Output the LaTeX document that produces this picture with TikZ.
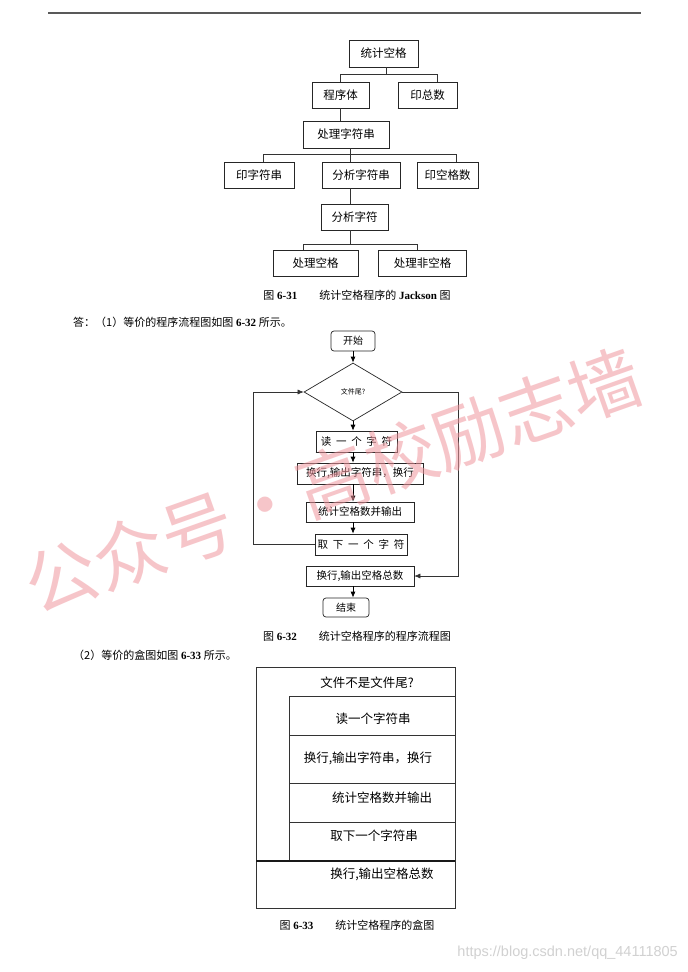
\documentclass[tikz,border=0pt]{standalone}
\usepackage{fontspec}
\setmainfont{Liberation Serif}
\newfontfamily\cjk{Noto Sans CJK SC}
\newfontfamily\urlfont{Liberation Sans}
\usetikzlibrary{shapes.geometric,arrows.meta}
\definecolor{wmpink}{RGB}{240,150,158}
\begin{document}
\begin{tikzpicture}[x=1pt,y=-1pt,
  shade3d/.style={append after command={
      (\tikzlastnode.south west) edge[draw=black!85,line width=1.3pt] (\tikzlastnode.south east)
      (\tikzlastnode.south east) edge[draw=black!85,line width=1.1pt] (\tikzlastnode.north east)}},
  jbox/.style={draw=black!85, line width=0.6pt, inner sep=0pt, font=\cjk\fontsize{11.5}{13}\selectfont, shade3d},
  fbox/.style={draw=black!85, line width=0.6pt, inner sep=0pt, font=\cjk\fontsize{10.5}{12}\selectfont, shade3d},
  term/.style={draw=black!85, line width=0.7pt, inner sep=0pt, rounded corners=3pt, font=\cjk\fontsize{10}{11}\selectfont},
  decision/.style={diamond, draw=black!85, line width=0.7pt, inner sep=0pt, font=\cjk\fontsize{7}{8}\selectfont},
  link/.style={draw=black!80, line width=0.6pt},
  arr/.style={draw=black, line width=0.8pt, -{Latex[length=6pt,width=5pt]}},
  nsline/.style={draw=black!80, line width=0.7pt},
  nstext/.style={inner sep=0pt, font=\cjk\fontsize{12.5}{14}\selectfont},
  caption/.style={inner sep=0pt, font=\fontsize{11}{13}\selectfont},
]
\fill[white] (0,0) rectangle (688,972);
\useasboundingbox (0,0) rectangle (688,972);

% top rule
\draw[black!65, line width=1.3pt] (48,13) -- (641,13);

% ---------------- Jackson diagram ----------------
\node[jbox, minimum width=69pt, minimum height=27pt] (tj)  at (383.5,53.5) {统计空格};
\node[jbox, minimum width=57pt, minimum height=26pt] (cxt) at (340.5,95)   {程序体};
\node[jbox, minimum width=59pt, minimum height=26pt] (yzs) at (427.5,95)   {印总数};
\node[jbox, minimum width=86pt, minimum height=27pt] (clz) at (346,134.5)  {处理字符串};
\node[jbox, minimum width=70pt, minimum height=26pt] (yzc) at (259,175)    {印字符串};
\node[jbox, minimum width=78pt, minimum height=26pt] (fxz) at (361,175)    {分析字符串};
\node[jbox, minimum width=61pt, minimum height=26pt] (ykg) at (447.5,175)  {印空格数};
\node[jbox, minimum width=67pt, minimum height=26pt] (fxc) at (354.5,217)  {分析字符};
\node[jbox, minimum width=85pt, minimum height=26pt] (clk) at (315.5,263)  {处理空格};
\node[jbox, minimum width=88pt, minimum height=26pt] (clf) at (422.5,263)  {处理非空格};

\coordinate (j1) at (386,74);
\draw[link] (tj.south -| j1) -- (j1);
\draw[link] (cxt.north) |- ([xshift=9.5pt]yzs.north |- j1) -- ([xshift=9.5pt]yzs.north);
\draw[link] (cxt.south) -- (clz.north -| cxt.south);
\coordinate (j2) at (350,154);
\draw[link] (clz.south -| j2) -- (fxz.north -| j2);
\draw[link] ([xshift=4pt]yzc.north) |- ([xshift=8.5pt]ykg.north |- j2) -- ([xshift=8.5pt]ykg.north);
\draw[link] (fxz.south -| j2) -- (fxc.north -| j2);
\coordinate (j3) at (350,244);
\draw[link] (fxc.south -| j3) -- (j3);
\draw[link] ([xshift=-12.5pt]clk.north) |- ([xshift=-5.5pt]clf.north |- j3) -- ([xshift=-5.5pt]clf.north);

\node[caption] (cap1) at (357,295) {{\cjk 图} \textbf{6-31}\hspace{2em}{\cjk 统计空格程序的} \textbf{Jackson} {\cjk 图}};
\node[caption, anchor=west] (ans1) at (73,322) {{\cjk 答：（1）等价的程序流程图如图} \textbf{6-32} {\cjk 所示。}};

% ---------------- Flowchart ----------------
\coordinate (fx) at (353,0);
\node[term, minimum width=44pt, minimum height=20pt] (start) at (353,341) {开始};
\node[decision, minimum width=98pt, minimum height=58pt] (dia) at (353,392) {文件尾?};
\node[fbox, minimum width=81pt, minimum height=21pt] (rd)  at (356.5,441.5) {读\ \ 一\ \ 个\ \ 字\ \ 符};
\node[fbox, minimum width=126pt, minimum height=21pt] (hh) at (360,473.5) {换行,输出字符串，换行};
\node[fbox, minimum width=108pt, minimum height=20pt] (tjk) at (360,512) {统计空格数并输出};
\node[fbox, minimum width=92pt, minimum height=21pt] (qx)  at (361,544.5) {取\ \ 下\ \ 一\ \ 个\ \ 字\ \ 符};
\node[fbox, minimum width=108pt, minimum height=20pt] (hs) at (360,576) {换行,输出空格总数};
\node[term, minimum width=46pt, minimum height=19pt] (fin) at (346,607.5) {结束};

\draw[arr] (start.south -| fx) -- (dia.north -| fx);
\draw[arr] (dia.south -| fx) -- (rd.north -| fx);
\draw[arr] (rd.south -| fx) -- (hh.north -| fx);
\draw[arr] (hh.south -| fx) -- (tjk.north -| fx);
\draw[arr] (tjk.south -| fx) -- (qx.north -| fx);
\draw[arr] (hs.south -| fx) -- (fin.north -| fx);
\coordinate (lx) at (253,0);
\draw[link, -{Latex[length=6pt,width=5pt]}] (qx.west) -| (lx |- dia.west) -- (dia.west);
\coordinate (rx) at (458,0);
\draw[link, -{Latex[length=6pt,width=5pt]}] (dia.east) -- (rx |- dia.east) |- (hs.east);

\node[caption] (cap2) at (357,636) {{\cjk 图} \textbf{6-32}\hspace{2em}{\cjk 统计空格程序的程序流程图}};
\node[caption, anchor=west] (ans2) at (73,655) {{\cjk （2）等价的盒图如图} \textbf{6-33} {\cjk 所示。}};

% ---------------- Box (N-S) diagram ----------------
\draw[nsline] (256,667) rectangle (455,908);
\draw[nsline] (289,696) -- (455,696);
\draw[nsline] (289,696) -- (289,861);
\draw[nsline] (289,735) -- (455,735);
\draw[nsline] (289,783) -- (455,783);
\draw[nsline] (289,822) -- (455,822);
\draw[black!90, line width=1.6pt] (256,861) -- (455,861);
\node[nstext] (ns0) at (367,683) {文件不是文件尾?};
\node[nstext] (ns1) at (373,719) {读一个字符串};
\node[nstext] (ns2) at (368,758) {换行,输出字符串，换行};
\node[nstext] (ns3) at (382,798) {统计空格数并输出};
\node[nstext] (ns4) at (374,836) {取下一个字符串};
\node[nstext] (ns5) at (382,874) {换行,输出空格总数};

\node[caption] (cap3) at (357,925) {{\cjk 图} \textbf{6-33}\hspace{2em}{\cjk 统计空格程序的盒图}};

% ---------------- watermarks ----------------
\node[rotate=19.5, text=wmpink, text opacity=0.55, inner sep=0pt,
      font=\cjk\fontsize{72}{74}\selectfont] (wm) at (333,481) {公众号・高校励志墙};
\node[anchor=east, inner sep=0pt, text=black!18,
      font=\urlfont\fontsize{14.5}{16}\selectfont] (url) at (678,953) {https://blog.csdn.net/qq\_44111805};
\end{tikzpicture}
\end{document}
